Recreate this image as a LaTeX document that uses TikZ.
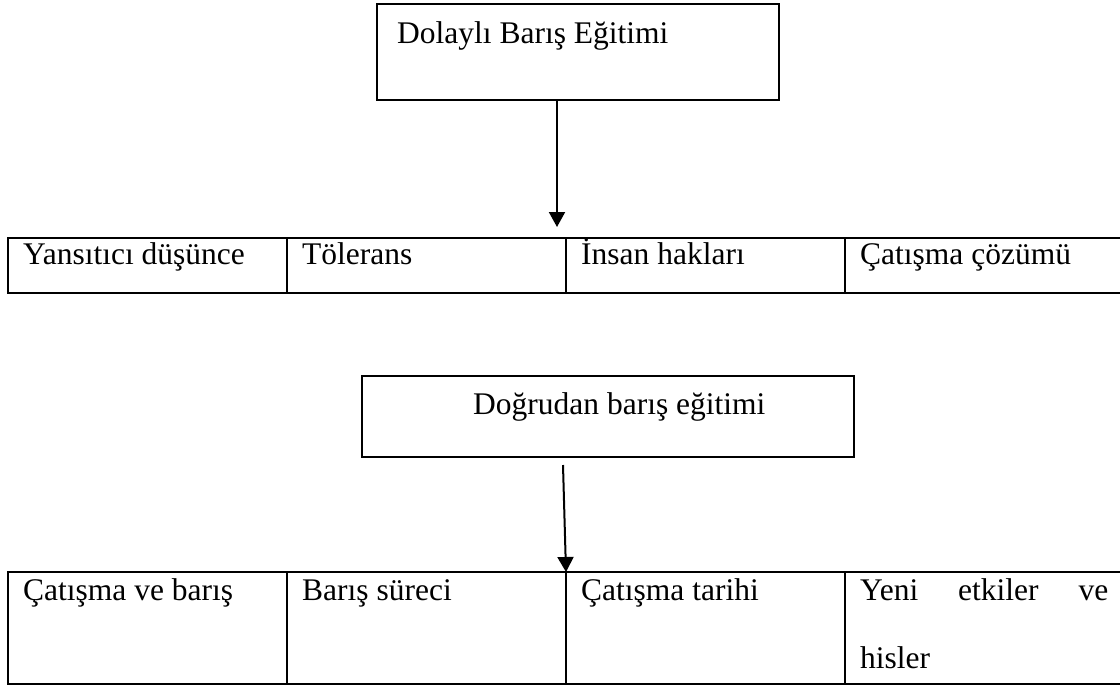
\documentclass[tikz,border=0pt]{standalone}
\usepackage{fontspec}
\setmainfont{Liberation Serif}
\usetikzlibrary{arrows.meta}
\begin{document}
\begin{tikzpicture}[x=1pt,y=-1pt,
  frame/.style={draw=black, line width=2.2pt, inner sep=0pt, anchor=north west},
  cellA/.style={frame, minimum width=279pt, minimum height=55pt},
  cellB/.style={frame, minimum width=279pt, minimum height=112pt},
  lbl/.style={anchor=base west, inner sep=0pt, font=\fontsize{31.5}{36}\selectfont},
  arr/.style={line width=2pt, -{Triangle[length=15pt,width=16pt]}}]
\fill[white] (0,0) rectangle (1120,686);
\useasboundingbox (0,0) rectangle (1120,686);
% top box
\node[frame, minimum width=402pt, minimum height=96pt] (top) at (376,3) {};
\node[lbl] (toptxt) at (397,43) {Dolaylı Barış Eğitimi};
% first table
\node[cellA] (r1c1) at (7,237) {};
\node[cellA] (r1c2) at (286,237) {};
\node[cellA] (r1c3) at (565,237) {};
\node[cellA, minimum width=295pt] (r1c4) at (844,237) {};
\node[lbl] (t11) at (23,264) {Yansıtıcı düşünce};
\node[lbl] (t12) at (302,264) {Tölerans};
\node[lbl] (t13) at (581,264) {İnsan hakları};
\node[lbl] (t14) at (860,264) {Çatışma çözümü};
% arrow 1
\coordinate (a1s) at (557,99);
\coordinate (a1e) at (557,227);
\draw[arr] (a1s) -- (a1e);
% second box
\node[frame, minimum width=492pt, minimum height=81pt] (mid) at (361,375) {};
\node[lbl] (midtxt) at (473,414) {Doğrudan barış eğitimi};
% arrow 2
\coordinate (a2s) at (563,465);
\coordinate (a2e) at (566,572);
\draw[arr] (a2s) -- (a2e);
% second table
\node[cellB] (r2c1) at (7,571) {};
\node[cellB] (r2c2) at (286,571) {};
\node[cellB] (r2c3) at (565,571) {};
\node[cellB, minimum width=295pt] (r2c4) at (844,571) {};
\node[lbl] (t21) at (23,600) {Çatışma ve barış};
\node[lbl] (t22) at (302,600) {Barış süreci};
\node[lbl] (t23) at (581,600) {Çatışma tarihi};
\node[lbl] (t24) at (860,600) {\makebox[248pt][s]{Yeni etkiler ve}};
\node[lbl] (t24b) at (860,668) {hisler};
\end{tikzpicture}
\end{document}
